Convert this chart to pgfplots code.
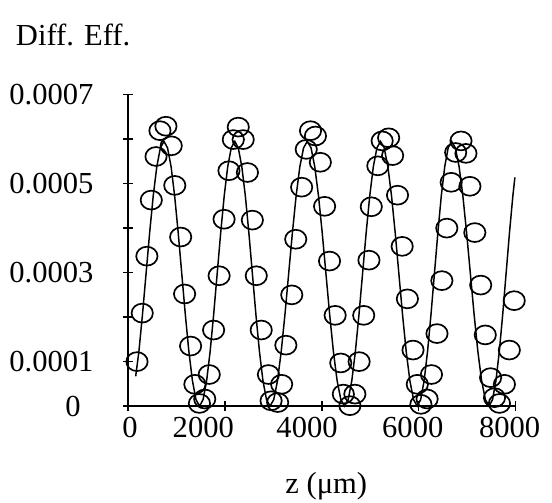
\documentclass[border=0pt]{standalone}
\usepackage{pgfplots}
\pgfplotsset{compat=1.18}
\usepackage{fontspec}
\setmainfont{Liberation Serif}
\newcommand{\lbl}{\fontsize{31bp}{36bp}\selectfont}
\begin{document}
\begin{tikzpicture}
\begin{axis}[
  at={(0,0)}, anchor=south west,
  scale only axis, width=393bp, height=316bp,
  xmin=0, xmax=8000, ymin=0, ymax=0.0007,
  axis x line=bottom, axis y line=left,
  axis line style={-, line width=1.5bp, black},
  tick align=center, major tick length=10bp,
  tick style={line width=1.5bp, black},
  xtick={0,2000,4000,6000,8000},
  xticklabels={\hspace*{4bp}0, 2000\hspace*{44bp}, 4000\hspace*{30bp}, 6000\hspace*{12bp}, 8000\hspace*{12bp}},
  ytick={0,0.0001,0.0002,0.0003,0.0004,0.0005,0.0006,0.0007},
  yticklabels={0\hspace*{13bp}, 0.0001, {}, 0.0003, {}, 0.0005, {}, 0.0007},
  scaled x ticks=false, scaled y ticks=false,
  xticklabel style={anchor=north, inner sep=0pt, yshift=-6bp},
  yticklabel style={anchor=east, inner sep=0pt, xshift=-30bp},
  every tick label/.append style={font=\lbl},
  /pgf/number format/assume math mode=true,
  clip=false,
]
% coupled-wave fit
\addplot[line width=1.5bp, black, no marks] coordinates {
(156,0.0000670) (222,0.0001226) (296,0.0002056) (370,0.0002975) (444,0.0003894)
(518,0.0004724) (592,0.0005382) (666,0.0005804) (740,0.000595)
(813.5,0.0005804) (887,0.0005382) (960.5,0.0004724) (1034,0.0003894) (1107.5,0.0002975)
(1181,0.0002056) (1254.5,0.0001226) (1328,0.0000568) (1401.5,0.0000146) (1475,0)
(1547.7,0.0000146) (1620.4,0.0000568) (1693.1,0.0001226) (1765.8,0.0002056) (1838.5,0.0002975)
(1911.2,0.0003894) (1983.9,0.0004724) (2056.6,0.0005382) (2129.3,0.0005804) (2202,0.000595)
(2274.8,0.0005804) (2347.6,0.0005382) (2420.4,0.0004724) (2493.2,0.0003894) (2566,0.0002975)
(2638.8,0.0002056) (2711.6,0.0001226) (2784.4,0.0000568) (2857.2,0.0000146) (2930,0)
(3007,0.0000146) (3084,0.0000568) (3161,0.0001226) (3238,0.0002056) (3315,0.0002975)
(3392,0.0003894) (3469,0.0004724) (3546,0.0005382) (3623,0.0005804) (3700,0.000595)
(3777,0.0005804) (3854,0.0005382) (3931,0.0004724) (4008,0.0003894) (4085,0.0002975)
(4162,0.0002056) (4239,0.0001226) (4316,0.0000568) (4393,0.0000146) (4470,0)
(4544.2,0.0000146) (4618.4,0.0000568) (4692.6,0.0001226) (4766.8,0.0002056) (4841,0.0002975)
(4915.2,0.0003894) (4989.4,0.0004724) (5063.6,0.0005382) (5137.8,0.0005804) (5212,0.000595)
(5287.8,0.0005804) (5363.6,0.0005382) (5439.4,0.0004724) (5515.2,0.0003894) (5591,0.0002975)
(5666.8,0.0002056) (5742.6,0.0001226) (5818.4,0.0000568) (5894.2,0.0000146) (5970,0)
(6041,0.0000146) (6112,0.0000568) (6183,0.0001226) (6254,0.0002056) (6325,0.0002975)
(6396,0.0003894) (6467,0.0004724) (6538,0.0005382) (6609,0.0005804) (6680,0.000595)
(6757.5,0.0005804) (6835,0.0005382) (6912.5,0.0004724) (6990,0.0003894) (7067.5,0.0002975)
(7145,0.0002056) (7222.5,0.0001226) (7300,0.0000568) (7377.5,0.0000146) (7455,0)
(7525,0.0000146) (7595,0.0000568) (7665,0.0001226) (7735,0.0002056) (7805,0.0002975)
(7875,0.0003894) (7945,0.0004724) (7987,0.000514)
};
% measured diffraction efficiency
\addplot[only marks, mark=o, mark size=10.3bp,
  mark options={black, line width=1.7bp, xscale=1.05, yscale=0.93}] coordinates {
(183,0.000100) (291,0.000209) (387,0.000337) (478,0.000463) (576,0.000561)
(657,0.000619) (780,0.000629) (890,0.000585) (963,0.000496) (1085,0.000380)
(1166,0.000252) (1290,0.000135) (1378,0.000049) (1472,0.000006) (1582,0.000016)
(1675,0.000071) (1765,0.000171) (1879,0.000293) (1981,0.000420) (2082,0.000529)
(2172,0.000599) (2274,0.000627) (2376,0.000599) (2463,0.000525) (2565,0.000418)
(2646,0.000293) (2748,0.000171) (2897,0.000071) (2952,0.000012) (3088,0.000008)
(3170,0.000049) (3257,0.000137) (3379,0.000250) (3461,0.000375) (3583,0.000492)
(3678,0.000577) (3766,0.000619) (3868,0.000607) (3969,0.000548) (4057,0.000449)
(4159,0.000326) (4275,0.000204) (4391,0.000097) (4444,0.000027) (4580,0.000001)
(4682,0.000027) (4770,0.000100) (4865,0.000204) (4973,0.000328) (5021,0.000448)
(5156,0.000540) (5246,0.000596) (5380,0.000603) (5462,0.000563) (5563,0.000474)
(5659,0.000359) (5767,0.000241) (5883,0.000126) (5971,0.000049) (6046,0.000004)
(6174,0.000016) (6264,0.000071) (6378,0.000163) (6479,0.000282) (6581,0.000400)
(6671,0.000503) (6764,0.000570) (6874,0.000596) (6976,0.000568) (7058,0.000494)
(7159,0.000390) (7281,0.000272) (7375,0.000160) (7485,0.000064) (7566,0.000019)
(7668,0.000006) (7770,0.000049) (7872,0.000126) (7973,0.000237)
};
\end{axis}
\node[anchor=west, inner sep=0pt] at (-114bp,377bp) {\lbl Diff. Eff.};
\node[inner sep=0pt] at (201bp,-81bp) {\lbl z (μm)};
\path (-130bp,-98bp) rectangle (422bp,412bp);
\end{tikzpicture}
\end{document}
